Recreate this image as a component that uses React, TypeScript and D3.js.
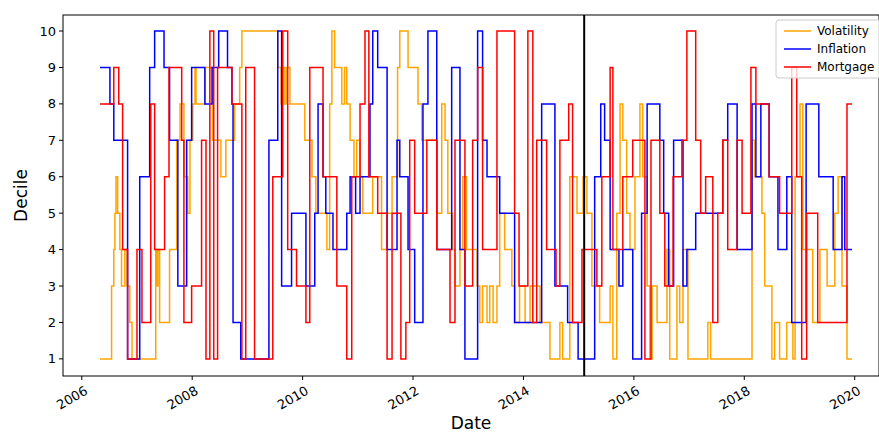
import React from "react";
import { scaleLinear, line, curveStepAfter } from "d3";

// change points: [decimal year, decile]
const volatility: [number, number][] = [
  [2006.33, 1], [2006.54, 3], [2006.58, 4], [2006.6, 5], [2006.62, 6], [2006.65, 5], [2006.69, 4], [2006.72, 3],
  [2006.78, 4], [2006.82, 3], [2006.87, 2], [2006.91, 1], [2007.34, 4], [2007.36, 3], [2007.38, 4], [2007.41, 2],
  [2007.59, 4], [2007.72, 7], [2007.78, 8], [2007.85, 6], [2007.92, 5], [2007.96, 7], [2008.01, 8], [2008.05, 9],
  [2008.07, 8], [2008.23, 9], [2008.37, 7], [2008.52, 6], [2008.61, 7], [2008.77, 8], [2008.86, 9], [2008.9, 10],
  [2009.55, 9], [2009.61, 8], [2009.64, 9], [2009.68, 8], [2009.71, 9], [2009.77, 8], [2010.04, 7], [2010.17, 6],
  [2010.24, 5], [2010.31, 5], [2010.44, 4], [2010.49, 8], [2010.53, 10], [2010.58, 9], [2010.71, 8], [2010.76, 9],
  [2010.8, 8], [2010.86, 7], [2010.93, 6], [2010.98, 7], [2011.04, 6], [2011.09, 5], [2011.27, 6], [2011.43, 4],
  [2011.53, 5], [2011.62, 6], [2011.72, 9], [2011.76, 10], [2011.91, 9], [2012.09, 8], [2012.16, 7], [2012.43, 5],
  [2012.52, 8], [2012.58, 7], [2012.63, 5], [2012.72, 4], [2012.76, 3], [2012.85, 4], [2012.9, 6], [2012.97, 4],
  [2013.16, 3], [2013.21, 2], [2013.26, 3], [2013.34, 2], [2013.39, 3], [2013.45, 2], [2013.52, 3], [2013.57, 5],
  [2013.66, 4], [2013.79, 3], [2013.84, 2], [2013.93, 3], [2014.03, 2], [2014.12, 3], [2014.3, 2], [2014.48, 1],
  [2014.66, 2], [2014.71, 1], [2014.84, 6], [2014.97, 5], [2015.08, 6], [2015.15, 5], [2015.24, 3], [2015.38, 2],
  [2015.57, 3], [2015.62, 1], [2015.69, 5], [2015.75, 8], [2015.8, 7], [2015.87, 5], [2015.93, 4], [2016.02, 6],
  [2016.11, 8], [2016.16, 6], [2016.24, 3], [2016.29, 1], [2016.33, 3], [2016.42, 2], [2016.6, 4], [2016.65, 1],
  [2016.78, 3], [2016.83, 2], [2016.89, 4], [2016.98, 1], [2017.34, 2], [2017.39, 1], [2018.14, 7], [2018.19, 6],
  [2018.32, 5], [2018.37, 3], [2018.5, 1], [2018.55, 2], [2018.64, 1], [2018.77, 2], [2018.88, 1], [2018.92, 6],
  [2019.01, 8], [2019.06, 4], [2019.24, 2], [2019.37, 4], [2019.5, 3], [2019.64, 5], [2019.7, 6], [2019.77, 3],
  [2019.86, 1], [2019.95, 1],
];

const inflation: [number, number][] = [
  [2006.33, 9], [2006.51, 8], [2006.58, 7], [2006.83, 1], [2007.05, 6], [2007.23, 9], [2007.32, 10], [2007.49, 9],
  [2007.59, 7], [2007.74, 3], [2007.9, 7], [2007.99, 9], [2008.23, 8], [2008.36, 9], [2008.48, 10], [2008.64, 9],
  [2008.72, 8], [2008.74, 2], [2008.88, 1], [2009.39, 7], [2009.55, 10], [2009.62, 3], [2009.8, 5], [2010.06, 3],
  [2010.22, 5], [2010.28, 8], [2010.37, 6], [2010.42, 5], [2010.55, 4], [2010.8, 5], [2010.86, 6], [2010.96, 5],
  [2011.04, 6], [2011.22, 8], [2011.27, 10], [2011.36, 9], [2011.53, 4], [2011.71, 7], [2011.76, 6], [2011.91, 4],
  [2012.03, 2], [2012.18, 8], [2012.27, 10], [2012.43, 4], [2012.7, 9], [2012.85, 4], [2012.94, 1], [2013.17, 10],
  [2013.26, 7], [2013.34, 6], [2013.57, 5], [2013.84, 2], [2014.33, 8], [2014.57, 3], [2014.8, 2], [2014.99, 1],
  [2015.29, 6], [2015.4, 8], [2015.47, 7], [2015.57, 4], [2015.73, 3], [2015.8, 4], [2015.98, 1], [2016.14, 5],
  [2016.24, 8], [2016.47, 7], [2016.54, 5], [2016.63, 3], [2016.72, 7], [2016.89, 3], [2016.96, 4], [2017.12, 5],
  [2017.61, 7], [2017.7, 8], [2017.87, 4], [2018.14, 8], [2018.21, 6], [2018.3, 8], [2018.45, 6], [2018.61, 4],
  [2018.77, 6], [2018.86, 2], [2019.12, 8], [2019.35, 6], [2019.61, 4], [2019.77, 6], [2019.82, 4], [2019.95, 4],
];

const mortgage: [number, number][] = [
  [2006.33, 8], [2006.58, 9], [2006.67, 8], [2006.74, 4], [2006.83, 1], [2007.0, 4], [2007.09, 2], [2007.25, 8],
  [2007.32, 4], [2007.5, 6], [2007.58, 9], [2007.81, 7], [2007.85, 2], [2007.99, 3], [2008.17, 7], [2008.25, 1],
  [2008.32, 10], [2008.39, 1], [2008.46, 9], [2008.72, 8], [2008.9, 1], [2008.97, 9], [2009.13, 1], [2009.46, 6],
  [2009.64, 10], [2009.73, 4], [2009.89, 3], [2010.06, 2], [2010.13, 9], [2010.37, 6], [2010.62, 3], [2010.8, 1],
  [2010.89, 6], [2011.04, 8], [2011.13, 10], [2011.2, 6], [2011.36, 5], [2011.53, 1], [2011.62, 5], [2011.78, 1],
  [2011.87, 2], [2011.94, 7], [2012.03, 5], [2012.25, 7], [2012.43, 4], [2012.67, 2], [2012.76, 7], [2012.94, 3],
  [2013.08, 7], [2013.17, 9], [2013.26, 4], [2013.52, 10], [2013.84, 5], [2013.92, 3], [2014.08, 10], [2014.17, 2],
  [2014.24, 7], [2014.42, 4], [2014.59, 3], [2014.66, 7], [2014.82, 8], [2014.89, 2], [2015.06, 4], [2015.33, 3],
  [2015.42, 6], [2015.57, 9], [2015.62, 4], [2015.8, 6], [2015.98, 7], [2016.2, 1], [2016.31, 7], [2016.47, 5],
  [2016.56, 3], [2016.71, 6], [2016.87, 7], [2016.96, 10], [2017.12, 7], [2017.21, 5], [2017.3, 6], [2017.43, 2],
  [2017.52, 5], [2017.61, 7], [2017.7, 4], [2017.87, 7], [2017.96, 5], [2018.12, 9], [2018.21, 8], [2018.45, 6],
  [2018.64, 5], [2018.86, 9], [2018.95, 6], [2019.04, 1], [2019.13, 5], [2019.33, 2], [2019.86, 8], [2019.95, 8],
];

const series = [
  { name: "Volatility", color: "orange", data: volatility },
  { name: "Inflation", color: "blue", data: inflation },
  { name: "Mortgage", color: "red", data: mortgage },
];
const yearTicks = [2006, 2008, 2010, 2012, 2014, 2016, 2018, 2020];
const decileTicks = [1, 2, 3, 4, 5, 6, 7, 8, 9, 10];
const splitYear = 2015.1;

const W = 879;
const H = 435;
const M = { left: 63, right: 0, top: 15, bottom: 59 };

export default function App() {
  const x = scaleLinear().domain([2005.66, 2020.44]).range([M.left, W - M.right]);
  const y = scaleLinear().domain([0.53, 10.44]).range([H - M.bottom, M.top]);
  const path = line<[number, number]>()
    .x((d) => x(d[0]))
    .y((d) => y(d[1]))
    .curve(curveStepAfter);
  const font = "DejaVu Sans, sans-serif";
  const bottom = H - M.bottom;

  return (
    <svg width={W} height={H} style={{ position: "absolute", left: 0, top: 0 }} fontFamily={font}>
      <rect width={W} height={H} fill="white" />
      <defs>
        <clipPath id="plot">
          <rect x={M.left} y={M.top} width={W - M.left - M.right} height={bottom - M.top} />
        </clipPath>
      </defs>
      <g clipPath="url(#plot)">
        {series.map((s) => (
          <path key={s.name} d={path(s.data) ?? ""} fill="none" stroke={s.color} strokeWidth={1.5} />
        ))}
        <line x1={x(splitYear)} x2={x(splitYear)} y1={M.top} y2={bottom} stroke="black" strokeWidth={2} />
      </g>
      <rect x={M.left} y={M.top} width={W - M.left - M.right} height={bottom - M.top} fill="none" stroke="black" strokeWidth={1} />
      {decileTicks.map((t) => (
        <g key={t} transform={`translate(${M.left},${y(t)})`}>
          <line x2={-4} stroke="black" />
          <text x={-7} dy="0.35em" textAnchor="end" fontSize={13}>{t}</text>
        </g>
      ))}
      {yearTicks.map((t) => (
        <g key={t} transform={`translate(${x(t)},${bottom})`}>
          <line y2={4} stroke="black" />
          <text transform="translate(2,9) rotate(-30)" textAnchor="end" dy="0.75em" fontSize={13}>{t}</text>
        </g>
      ))}
      <text x={(M.left + W) / 2} y={429} textAnchor="middle" fontSize={17}>Date</text>
      <text transform={`translate(27,${(M.top + bottom) / 2}) rotate(-90)`} textAnchor="middle" fontSize={17}>Decile</text>
      <g transform="translate(776,20)">
        <rect width={110} height={58} rx={3} fill="white" fillOpacity={0.8} stroke="#ccc" />
        {series.map((s, i) => (
          <g key={s.name} transform={`translate(8,${11 + i * 18})`}>
            <line x2={27} stroke={s.color} strokeWidth={1.5} />
            <text x={33} dy="0.35em" fontSize={12}>{s.name}</text>
          </g>
        ))}
      </g>
    </svg>
  );
}
